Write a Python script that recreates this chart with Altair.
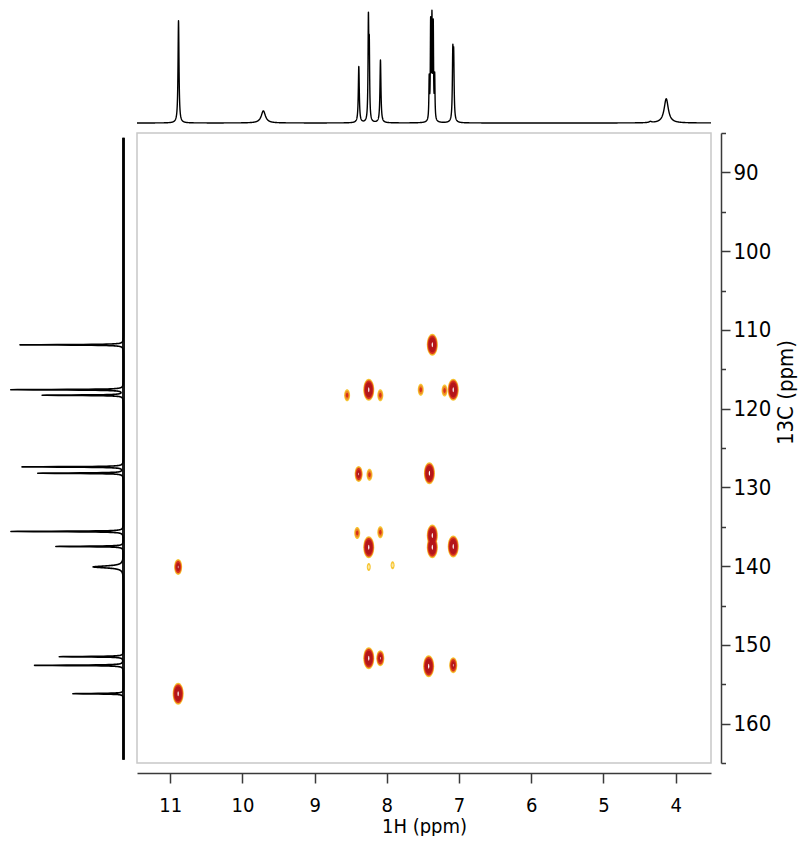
import altair as alt
import numpy as np
import pandas as pd

# ---- 1H projection (top): peak positions (ppm), heights (rel.), half-widths (ppm)
h1_pos = [10.885, 9.71, 8.388, 8.255, 8.243, 8.088, 7.413, 7.393, 7.375, 7.357, 7.337, 7.086, 7.074, 4.35, 4.13]
h1_hgt = [0.93, 0.11, 0.51, 0.88, 0.62, 0.57, 0.37, 0.86, 0.89, 0.84, 0.39, 0.57, 0.54, 0.01, 0.22]
h1_wid = [0.008, 0.035, 0.008, 0.006, 0.006, 0.008, 0.005, 0.005, 0.005, 0.005, 0.005, 0.007, 0.007, 0.02, 0.035]

# ---- 13C projection (left)
c13_pos = [111.9, 117.6, 118.3, 127.4, 128.2, 135.6, 137.5, 140.1, 151.5, 152.6, 156.2]
c13_hgt = [0.92, 1.0, 0.72, 0.90, 0.76, 1.0, 0.60, 0.27, 0.57, 0.79, 0.45]
c13_wid = [0.04, 0.04, 0.04, 0.04, 0.04, 0.04, 0.04, 0.15, 0.04, 0.04, 0.04]

# ---- 2D cross peaks: 1H ppm, 13C ppm, contour level (1 weak .. 4 strong)
xp_h = [7.37, 8.55, 8.25, 8.09, 7.53, 7.20, 7.08, 8.39, 8.24, 7.41, 8.41, 8.09, 8.25, 8.25,
        7.92, 7.37, 7.37, 7.08, 8.25, 8.09, 7.42, 7.08, 10.89, 10.89]
xp_c = [111.9, 118.3, 117.6, 118.3, 117.6, 117.7, 117.6, 128.3, 128.4, 128.2, 135.8, 135.7, 137.6, 140.1,
        139.9, 136.1, 137.6, 137.5, 151.7, 151.7, 152.7, 152.6, 140.1, 156.2]
xp_lv = [4, 2, 4, 2, 2, 2, 4, 3, 2, 4, 2, 2, 4, 1,
         1, 4, 4, 4, 4, 3, 4, 3, 3, 4]

H_DOM = [11.46, 3.51]
C_DOM = [85, 165]


def lorentz_sum(grid, pos, hgt, wid):
    g = np.asarray(grid)[:, None]
    p = np.asarray(pos)[None, :]
    w = np.asarray(wid)[None, :]
    h = np.asarray(hgt)[None, :]
    return (h * w ** 2 / ((g - p) ** 2 + w ** 2)).sum(axis=1)


hgrid = np.union1d(np.arange(3.51, 11.46, 0.001), h1_pos)
hgrid = hgrid[(hgrid >= 3.51) & (hgrid <= 11.46)]
h_df = pd.DataFrame({"ppm": np.round(hgrid, 4),
                     "inten": np.round(lorentz_sum(hgrid, h1_pos, h1_hgt, h1_wid), 4)})

cgrid = np.union1d(np.arange(85.6, 164.6, 0.01), c13_pos)
c_df = pd.DataFrame({"ppm": np.round(cgrid, 3),
                     "inten": np.round(lorentz_sum(cgrid, c13_pos, c13_hgt, c13_wid), 4)})
c_base = pd.DataFrame({"inten": [0.0], "lo": [float(cgrid[0])], "hi": [float(cgrid[-1])]})

xp_df = pd.DataFrame({"h": xp_h, "c": xp_c, "level": xp_lv})

FONT = "DejaVu Sans Condensed, DejaVu Sans"
AX = "#3a3a3a"

x_axis = alt.Axis(
    orient="bottom", offset=10, values=[11 - 0.5 * i for i in range(15)],
    format="d",
    labelExpr="datum.value % 1 == 0 ? datum.label : ''",
    tickSize={"condition": {"test": "datum.value % 1 == 0", "value": 10}, "value": 5},
    title="1H (ppm)", grid=False,
    domainColor=AX, tickColor=AX, domainWidth=1.5, tickWidth=1.5,
    labelFont=FONT, labelFontSize=20, labelColor="black", labelPadding=12,
    titleFont=FONT, titleFontSize=20, titleFontWeight="normal", titleColor="black",
    titleBaseline="top", titleY=43,
)
y_axis = alt.Axis(
    orient="right", offset=10, values=[85 + 5 * i for i in range(17)],
    format="d",
    labelExpr="datum.value % 10 == 0 ? datum.label : ''",
    tickSize={"condition": {"test": "datum.value % 10 == 0", "value": 9}, "value": 4.5},
    title="13C (ppm)", grid=False,
    domainColor=AX, tickColor=AX, domainWidth=1.5, tickWidth=1.5,
    labelFont=FONT, labelFontSize=22, labelColor="black", labelPadding=3,
    titleFont=FONT, titleFontSize=22, titleFontWeight="normal", titleColor="black",
    titleAngle=270, titleBaseline="top", titleY=259, titlePadding=5,
)

xs = alt.Scale(domain=H_DOM, nice=False, zero=False)
ys = alt.Scale(domain=C_DOM, reverse=True, nice=False, zero=False)

ELL = "M0,-1A0.5,1,0,1,1,0,1A0.5,1,0,1,1,0,-1Z"
ELL_N = "M0,-1A0.25,1,0,1,1,0,1A0.25,1,0,1,1,0,-1Z"

base = alt.Chart(xp_df).encode(
    x=alt.X("h:Q", scale=xs, axis=x_axis),
    y=alt.Y("c:Q", scale=ys, axis=y_axis),
)


def ring(heights, color, shape=ELL):
    # heights: contour height in px for levels 1..4 (0 = not drawn)
    sizes = [0] + [h * h for h in heights]
    lvl_min = 1 + next(i for i, h in enumerate(heights) if h > 0)
    lvl_max = 1 + max(i for i, h in enumerate(heights) if h > 0)
    return base.transform_filter(
        (alt.datum.level >= lvl_min) & (alt.datum.level <= lvl_max)
    ).transform_calculate(
        sz=f"{sizes}[datum.level]"
    ).mark_point(filled=True, shape=shape, color=color, opacity=1, strokeWidth=0).encode(
        size=alt.Size("sz:Q", scale=None, legend=None)
    )


rings = alt.layer(
    ring([8, 12, 16, 22], "#f6c532"),
    ring([0, 9, 14, 20], "#ee8a24"),
    ring([0, 5, 12, 18.5], "#d6301d"),
    ring([0, 0, 8, 15], "#b3161a"),
    ring([0, 0, 2.5, 5], "#ffffff", shape=ELL_N),
    ring([4, 0, 0, 0], "#fde6a0"),
)

top_spec = alt.Chart(h_df).mark_line(color="black", strokeWidth=1.4, strokeJoin="round").encode(
    x=alt.X("ppm:Q", scale=alt.Scale(domain=H_DOM, nice=False, zero=False), axis=None),
    y=alt.Y("inten:Q", scale=alt.Scale(domain=[0, 1], range=[-10, -120], nice=False, zero=False), axis=None),
)

lx = alt.Scale(domain=[0, 1], range=[-13.5, -126], nice=False, zero=False)
ly = alt.Scale(domain=C_DOM, reverse=True, nice=False, zero=False)
left_line = alt.Chart(c_df).mark_line(color="black", strokeWidth=1.6, strokeJoin="round").encode(
    x=alt.X("inten:Q", scale=lx, axis=None),
    y=alt.Y("ppm:Q", scale=ly, axis=None),
    order="ppm:Q",
)
left_base = alt.Chart(c_base).mark_rule(color="#1a1a1a", strokeWidth=3).encode(
    x=alt.X("inten:Q", scale=lx, axis=None),
    y=alt.Y("lo:Q", scale=ly, axis=None),
    y2="hi:Q",
)
left_spec = alt.layer(left_base, left_line)

chart = alt.layer(rings, top_spec, left_spec).resolve_scale(
    x="independent", y="independent"
).properties(
    width=574, height=630,
    autosize=alt.AutoSizeParams(type="none"),
    padding={"left": 129, "top": 125, "right": 89, "bottom": 73},
    background="white",
).configure_view(stroke="#c8c8c8", strokeWidth=1.5)

chart.save("out.html", embed_options={"renderer": "svg", "actions": False})
